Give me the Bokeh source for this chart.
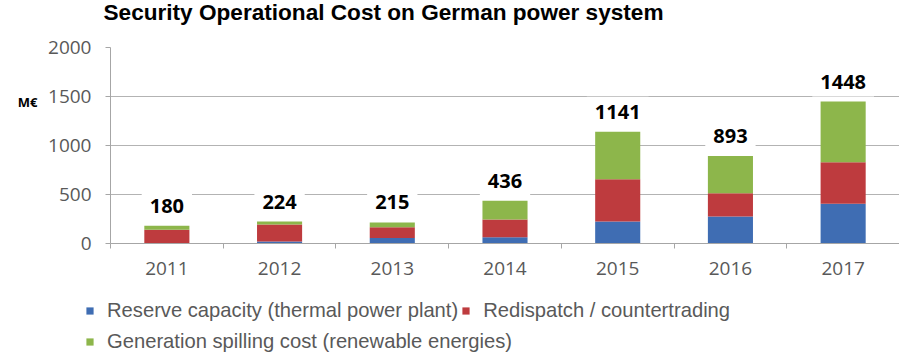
from bokeh.plotting import figure
from bokeh.layouts import column, row
from bokeh.models import ColumnDataSource, FixedTicker, Legend, LegendItem, LinearAxis, Range1d, Label
from bokeh.core.properties import value
from bokeh.embed import file_html
from bokeh.resources import INLINE

title_text = "Security Operational Cost on German power system"
years = ["2011", "2012", "2013", "2014", "2015", "2016", "2017"]
reserve = [5, 20, 55, 65, 225, 276, 405]
redispatch = [135, 175, 110, 180, 430, 237, 425]
spilling = [40, 29, 50, 191, 486, 380, 618]
totals = [180, 224, 215, 436, 1141, 893, 1448]
y_ticks = [0, 500, 1000, 1500, 2000]
series_names = [
    "Reserve capacity (thermal power plant)",
    "Redispatch / countertrading",
    "Generation spilling cost (renewable energies)",
]
colors = ["#3F6DB3", "#BE3B3E", "#8DB64B"]
stack_keys = ["reserve", "redispatch", "spilling"]

x = [i + 0.5 for i in range(len(years))]
source = ColumnDataSource(dict(
    x=x, year=years, reserve=reserve, redispatch=redispatch, spilling=spilling,
    total=totals, label=[str(t) for t in totals],
))


def strip(height, x_range, y_range):
    f = figure(
        width=899, height=height, x_range=x_range, y_range=y_range,
        output_backend="svg", toolbar_location=None,
        x_axis_type=None, y_axis_type=None,
        min_border_left=0, min_border_right=0, min_border_top=0, min_border_bottom=0,
    )
    f.outline_line_color = None
    f.xgrid.visible = False
    f.ygrid.visible = False
    return f


# ---- title strip (pixel-like coordinates, y downward) ----
tf = strip(33, Range1d(0, 899), Range1d(33, 0))
tf.add_layout(Label(
    x=103, y=12, text=title_text, text_align="left", text_baseline="middle",
    text_font="Liberation Sans", text_font_style="bold", text_font_size="22.6px",
    text_color="black",
))

# ---- main chart ----
p = figure(
    width=899, height=263,
    x_range=Range1d(0, len(years)), y_range=Range1d(0, 2000),
    output_backend="svg", toolbar_location=None,
    min_border_left=110, min_border_right=0, min_border_top=14, min_border_bottom=53,
)

renderers = p.vbar_stack(
    stack_keys, x="x", width=0.4,
    fill_color=colors, line_color=None, source=source,
)

p.text(
    x="x", y="total", text="label", source=source,
    text_align="center", text_baseline="middle", y_offset=-20,
    text_font=value("Open Sans"), text_font_style="bold", text_font_size="20px",
    text_color="black", background_fill_color="white", padding=8,
)

# x axis: labels at category centres, tick marks between categories
p.xaxis.ticker = FixedTicker(ticks=x, minor_ticks=list(range(len(years) + 1)))
p.xaxis.major_label_overrides = {xi: yr for xi, yr in zip(x, years)}
p.xaxis.major_tick_out = 0
p.xaxis.major_tick_in = 0
p.xaxis.minor_tick_out = 5
p.xaxis.minor_tick_in = 0
p.xaxis.axis_line_color = "#a6a6a6"
p.xaxis.minor_tick_line_color = "#a6a6a6"
p.xaxis.major_label_text_font = "Open Sans"
p.xaxis.major_label_text_font_size = "19px"
p.xaxis.major_label_text_color = "#595959"
p.xaxis.major_label_standoff = 13

p.yaxis.ticker = FixedTicker(ticks=y_ticks, minor_ticks=[])
p.yaxis.major_tick_out = 5
p.yaxis.major_tick_in = 0
p.yaxis.minor_tick_line_color = None
p.yaxis.axis_line_color = "#a6a6a6"
p.yaxis.major_tick_line_color = "#a6a6a6"
p.yaxis.major_label_text_font = "Open Sans"
p.yaxis.major_label_text_font_size = "19px"
p.yaxis.major_label_text_color = "#595959"
p.yaxis.major_label_standoff = 14

# unit label "M€" on a tickless second left axis (raised with a blank second line)
unit_axis = LinearAxis(
    ticker=FixedTicker(ticks=[], minor_ticks=[]),
    axis_label="M€\n ", axis_label_orientation="horizontal",
    axis_line_color=None, major_tick_line_color=None, minor_tick_line_color=None,
    major_label_text_font_size="0px", axis_label_standoff=8,
    axis_label_text_font="Open Sans", axis_label_text_font_style="bold",
    axis_label_text_font_size="13px", axis_label_text_color="black",
    axis_label_text_line_height=4.8,
)
p.add_layout(unit_axis, "left")

p.xgrid.visible = False
p.ygrid.grid_line_color = "#b3b3b3"
p.outline_line_color = None

# ---- legend strip below the chart ----
lg = strip(64, Range1d(-2, -1), Range1d(0, 1))
# same stacked bars (outside this strip's visible range) serve as legend swatches
swatches = lg.vbar_stack(stack_keys, x="x", width=0.4, fill_color=colors,
                         line_color=None, source=source)

leg1 = Legend(items=[LegendItem(label=series_names[0], renderers=[swatches[0]]),
                     LegendItem(label=series_names[1], renderers=[swatches[1]])],
              orientation="horizontal", location=(85, 38))
leg2 = Legend(items=[LegendItem(label=series_names[2], renderers=[swatches[2]])],
              orientation="horizontal", location=(85, 7))
for leg in (leg1, leg2):
    leg.padding = 0
    leg.margin = 0
    leg.spacing = 3
    leg.glyph_width = 9
    leg.glyph_height = 9
    leg.label_standoff = 13
    leg.label_height = 20
    leg.border_line_color = None
    leg.background_fill_alpha = 0
    leg.label_text_font = "Liberation Sans"
    leg.label_text_font_size = "20.2px"
    leg.label_text_color = "#595959"
    lg.add_layout(leg)

layout = column(row(tf, spacing=0), p, row(lg, spacing=0), spacing=0)
open("out.html", "w").write(file_html(layout, INLINE))
